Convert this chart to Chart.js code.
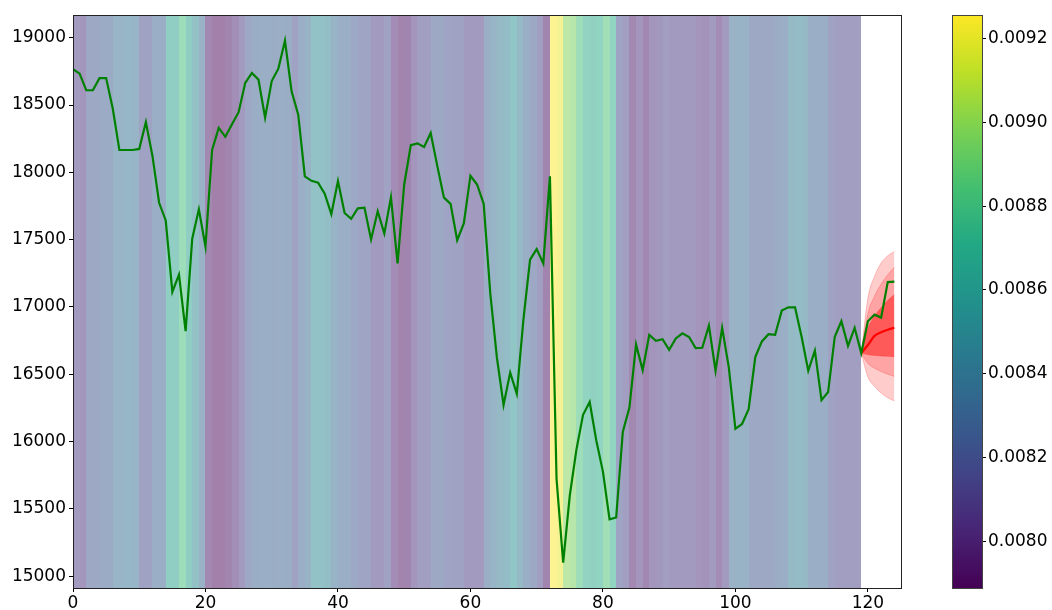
<!DOCTYPE html>
<html>
<head>
<meta charset="utf-8">
<script src="https://cdn.jsdelivr.net/npm/chart.js@4.4.1/dist/chart.umd.min.js"></script>
<style>
  html, body { margin: 0; padding: 0; background: #fff; }
  #wrap { position: relative; width: 1052px; height: 610px; }
  #wrap canvas { position: absolute; left: 0; top: 0; }
</style>
</head>
<body>
<div id="wrap">
  <canvas id="main" width="1052" height="610"></canvas>
  <canvas id="cbar" width="1052" height="610"></canvas>
</div>
<script>
// price history (green), one point per step 0..124
const prices = [
  18766, 18733, 18610, 18610, 18700, 18700, 18474, 18166, 18166, 18166,
  18174, 18373, 18120, 17774, 17643, 17112, 17240, 16820, 17507, 17725,
  17447, 18166, 18330, 18264, 18357, 18447, 18665, 18738, 18689, 18406,
  18678, 18770, 18978, 18602, 18428, 17970, 17937, 17924, 17842, 17689,
  17935, 17698, 17654, 17733, 17738, 17501, 17711, 17545, 17815, 17324,
  17910, 18202, 18215, 18188, 18292, 18046, 17812, 17766, 17496, 17621,
  17975, 17910, 17766, 17098, 16621, 16272, 16512, 16354, 16907, 17351,
  17430, 17324, 17970, 15722, 15101, 15600, 15940, 16199, 16294, 16008,
  15777, 15422, 15436, 16071, 16253, 16722, 16531, 16793, 16749, 16760,
  16681, 16766, 16804, 16777, 16695, 16697, 16861, 16526, 16845, 16553,
  16095, 16131, 16240, 16627, 16744, 16798, 16793, 16973, 16997, 16997,
  16777, 16526, 16676, 16308, 16368, 16779, 16894, 16711, 16845, 16657,
  16894, 16943, 16921, 17185, 17188
];

// volatility per step 0..118, shown as background colour
const vol = [
  0.008095, 0.008054, 0.008232, 0.008232, 0.008259, 0.008259, 0.008368, 0.008368, 0.008395, 0.008368,
  0.008163, 0.008163, 0.008300, 0.008300, 0.008641, 0.008641, 0.008819, 0.008641, 0.008505, 0.008327,
  0.007958, 0.007890, 0.007890, 0.007931, 0.007999, 0.008095, 0.008232, 0.008272, 0.008300, 0.008300,
  0.008272, 0.008300, 0.008272, 0.008163, 0.008300, 0.008341, 0.008505, 0.008505, 0.008464, 0.008341,
  0.008300, 0.008300, 0.008232, 0.008191, 0.008191, 0.008095, 0.008095, 0.008163, 0.007986, 0.007917,
  0.007931, 0.008054, 0.008136, 0.008136, 0.008232, 0.008232, 0.008191, 0.008163, 0.008163, 0.008095,
  0.008095, 0.008095, 0.008300, 0.008368, 0.008409, 0.008436, 0.008546, 0.008409, 0.008300, 0.008232,
  0.008136, 0.007931, 0.009256, 0.009215, 0.008983, 0.008955, 0.008819, 0.008710, 0.008682, 0.008710,
  0.008846, 0.008710, 0.008191, 0.008136, 0.007958, 0.008054, 0.007945, 0.008054, 0.008081, 0.008136,
  0.008095, 0.008095, 0.008095, 0.008095, 0.008054, 0.008027, 0.008095, 0.007986, 0.008095, 0.008327,
  0.008341, 0.008327, 0.008232, 0.008232, 0.008232, 0.008232, 0.008272, 0.008300, 0.008409, 0.008436,
  0.008409, 0.008300, 0.008300, 0.008300, 0.008163, 0.008136, 0.008136, 0.008136, 0.008136
];

// forecast from step 119
const fcX = [119, 120, 121, 122, 123, 124];
const fcMedian = [16657, 16717, 16785, 16812, 16831, 16845];
const fcInnerHi = [16657, 16840, 16930, 16995, 17050, 17092];
const fcInnerLo = [16657, 16645, 16640, 16636, 16633, 16630];
const fcMidHi = [16657, 16950, 17080, 17170, 17240, 17295];
const fcMidLo = [16657, 16580, 16545, 16520, 16500, 16484];
const fcOuterHi = [16657, 17066, 17227, 17326, 17381, 17412];
const fcOuterLo = [16657, 16480, 16410, 16360, 16325, 16302];

const xTicks = [0, 20, 40, 60, 80, 100, 120];
const yTicks = [15000, 15500, 16000, 16500, 17000, 17500, 18000, 18500, 19000];
const cbTicks = [0.0080, 0.0082, 0.0084, 0.0086, 0.0088, 0.0090, 0.0092];
const volMin = 0.007889, volMax = 0.009256;

const viridis = [
  [68, 1, 84], [72, 36, 117], [65, 68, 135], [53, 95, 141], [42, 120, 142],
  [33, 145, 140], [34, 168, 132], [68, 191, 112], [122, 209, 81], [189, 223, 38], [253, 231, 37]
];

function viridisAt(t) {
  t = Math.max(0, Math.min(1, t));
  const p = t * (viridis.length - 1);
  const i = Math.min(Math.floor(p), viridis.length - 2);
  const f = p - i;
  return viridis[i].map((c, k) => c + (viridis[i + 1][k] - c) * f);
}

// alpha 0.5 over white, pre-blended so neighbouring strips don't leave seams
function bandColor(v) {
  const c = viridisAt((v - volMin) / (volMax - volMin));
  return `rgb(${c.map(x => Math.round(x * 0.5 + 127.5)).join(',')})`;
}

Chart.defaults.font.family = '"DejaVu Sans", sans-serif';
Chart.defaults.font.size = 17;
Chart.defaults.color = '#000';

const pts = (xs, ys) => xs.map((x, i) => ({ x, y: ys[i] }));

const volBands = {
  id: 'volBands',
  beforeDatasetsDraw(chart) {
    const { ctx, chartArea: a, scales: { x } } = chart;
    ctx.save();
    vol.forEach((v, i) => {
      const x0 = Math.round(x.getPixelForValue(i));
      const x1 = Math.round(x.getPixelForValue(i + 1));
      ctx.fillStyle = bandColor(v);
      ctx.fillRect(x0, a.top, x1 - x0, a.bottom - a.top);
    });
    ctx.restore();
  }
};

const frame = {
  id: 'frame',
  afterDraw(chart) {
    const { ctx, chartArea: a } = chart;
    ctx.save();
    ctx.strokeStyle = '#222';
    ctx.lineWidth = 1;
    ctx.strokeRect(Math.round(a.left) + 0.5, Math.round(a.top) + 0.5,
      Math.round(a.right - a.left), Math.round(a.bottom - a.top));
    ctx.restore();
  }
};

const band = (data, fill, bg) => ({
  data, fill, backgroundColor: bg,
  borderColor: 'rgba(255,0,0,0.22)', borderWidth: 1,
  pointRadius: 0, cubicInterpolationMode: 'monotone'
});

new Chart(document.getElementById('main'), {
  type: 'line',
  data: {
    datasets: [
      { data: pts(prices.map((_, i) => i), prices), borderColor: '#008000', borderWidth: 2.2,
        pointRadius: 0, fill: false, tension: 0 },
      { data: pts(fcX, fcMedian), borderColor: '#ff0000', borderWidth: 2.2, pointRadius: 0,
        fill: false, cubicInterpolationMode: 'monotone' },
      band(pts(fcX, fcInnerHi), '+1', 'rgba(255,0,0,0.45)'),
      band(pts(fcX, fcInnerLo), false, 'transparent'),
      band(pts(fcX, fcMidHi), '+1', 'rgba(255,0,0,0.2)'),
      band(pts(fcX, fcMidLo), false, 'transparent'),
      band(pts(fcX, fcOuterHi), '+1', 'rgba(255,0,0,0.2)'),
      band(pts(fcX, fcOuterLo), false, 'transparent')
    ]
  },
  options: {
    responsive: false,
    animation: false,
    devicePixelRatio: 1,
    layout: { padding: { left: 0, top: 15, right: 151, bottom: 0 } },
    plugins: { legend: { display: false }, tooltip: { enabled: false } },
    scales: {
      x: {
        type: 'linear', min: 0, max: 125,
        grid: { drawOnChartArea: false, tickLength: 4, tickColor: '#000' },
        border: { color: '#222' },
        ticks: { padding: 1, maxRotation: 0, callback: v => String(v) },
        afterBuildTicks: s => { s.ticks = xTicks.map(value => ({ value })); },
        afterFit: s => { s.height = 22; }
      },
      y: {
        type: 'linear', min: 14912, max: 19169,
        grid: { drawOnChartArea: false, tickLength: 4, tickColor: '#000' },
        border: { color: '#222' },
        ticks: { padding: 3, callback: v => String(v) },
        afterBuildTicks: s => { s.ticks = yTicks.map(value => ({ value })); },
        afterFit: s => { s.width = 73; }
      }
    }
  },
  plugins: [volBands, frame]
});

const cbFill = {
  id: 'cbFill',
  beforeDatasetsDraw(chart) {
    const { ctx, chartArea: a } = chart;
    const g = ctx.createLinearGradient(0, a.bottom, 0, a.top);
    viridis.forEach((c, i) => g.addColorStop(i / (viridis.length - 1), `rgb(${c.join(',')})`));
    ctx.save();
    ctx.fillStyle = g;
    ctx.fillRect(a.left, a.top, a.right - a.left, a.bottom - a.top);
    ctx.strokeStyle = '#444';
    ctx.lineWidth = 1;
    ctx.strokeRect(Math.round(a.left) + 0.5, Math.round(a.top) + 0.5,
      Math.round(a.right - a.left), Math.round(a.bottom - a.top));
    ctx.restore();
  }
};

new Chart(document.getElementById('cbar'), {
  type: 'scatter',
  data: { datasets: [{ data: [] }] },
  options: {
    responsive: false,
    animation: false,
    devicePixelRatio: 1,
    layout: { padding: { left: 952, top: 15, right: 0, bottom: 22 } },
    plugins: { legend: { display: false }, tooltip: { enabled: false } },
    scales: {
      x: { display: false, min: 0, max: 1 },
      y: {
        type: 'linear', position: 'right', min: volMin, max: volMax,
        grid: { drawOnChartArea: false, tickLength: 4, tickColor: '#000' },
        border: { display: false },
        ticks: { padding: 2, callback: v => v.toFixed(4) },
        afterBuildTicks: s => { s.ticks = cbTicks.map(value => ({ value })); },
        afterFit: s => { s.width = 70; }
      }
    }
  },
  plugins: [cbFill]
});
</script>
</body>
</html>
